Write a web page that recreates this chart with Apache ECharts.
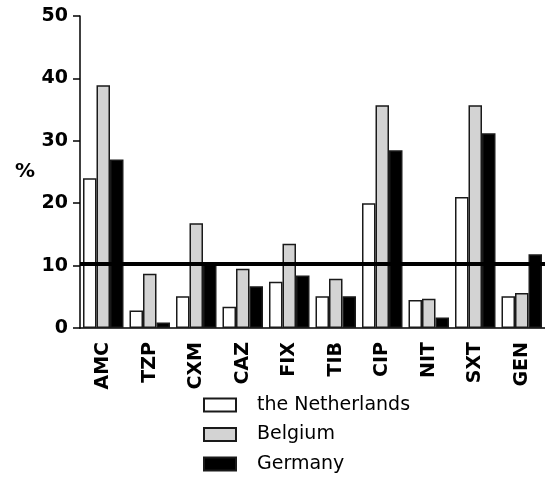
<!DOCTYPE html>
<html>
<head>
<meta charset="utf-8">
<script src="https://cdn.jsdelivr.net/npm/echarts@6/dist/echarts.min.js"></script>
<style>
html,body{margin:0;padding:0;background:#fff;}
#chart{width:545px;height:478px;}
</style>
</head>
<body>
<div id="chart"></div>
<script>
const categories = ['AMC','TZP','CXM','CAZ','FIX','TIB','CIP','NIT','SXT','GEN'];
const netherlands = [24.0, 2.8, 5.1, 3.4, 7.4, 5.1, 20.0, 4.5, 21.0, 5.1];
const belgium     = [38.9, 8.7, 16.8, 9.5, 13.5, 7.9, 35.7, 4.7, 35.7, 5.6];
const germany     = [27.0, 0.9, 10.4, 6.7, 8.4, 5.1, 28.5, 1.7, 31.2, 11.8];
const seriesNames = ['the Netherlands','Belgium','Germany'];
const referenceLevel = 10.3;
const yTicks = {min: 0, max: 50, interval: 10};

const chart = echarts.init(document.getElementById('chart'), null, {renderer:'canvas'});
const boldFont = 'DejaVu Sans';
const barStyle = (fill) => ({color: fill, borderColor: '#1a1a1a', borderWidth: 1.5});

chart.setOption({
  animation: false,
  backgroundColor: '#fff',
  grid: {left: 80, top: 16, right: -2, bottom: 150, containLabel: false},
  legend: {
    orient: 'vertical',
    left: 203,
    top: 395,
    height: 90,
    padding: 0,
    itemWidth: 32,
    itemHeight: 13,
    itemGap: 9.5,
    selectedMode: false,
    textStyle: {fontFamily: 'DejaVu Sans', fontSize: 19, color: '#000', lineHeight: 20, padding: [0,0,0,16]},
    data: seriesNames.map(n => ({name: n, icon: 'rect'}))
  },
  xAxis: {
    type: 'category',
    data: categories,
    axisLine: {lineStyle: {color: '#000', width: 1.5}},
    axisTick: {alignWithLabel: true, length: 7, lineStyle: {color: '#000', width: 1.5}},
    axisLabel: {rotate: 90, margin: 14, fontFamily: boldFont, fontWeight: 'bold', fontSize: 19, color: '#000'}
  },
  yAxis: {
    type: 'value',
    min: yTicks.min, max: yTicks.max, interval: yTicks.interval,
    name: '%',
    nameLocation: 'middle',
    nameRotate: 0,
    nameGap: 45,
    nameTextStyle: {fontFamily: boldFont, fontWeight: 'bold', fontSize: 20, color: '#000'},
    axisLine: {show: true, lineStyle: {color: '#000', width: 1.5}},
    axisTick: {show: true, length: 7, lineStyle: {color: '#000', width: 1.5}},
    axisLabel: {margin: 12, fontFamily: boldFont, fontWeight: 'bold', fontSize: 19, color: '#000'},
    splitLine: {show: false}
  },
  series: [
    {name: seriesNames[0], type: 'bar', data: netherlands, barWidth: 13.5, barGap: '0%', itemStyle: barStyle('#ffffff'), z: 2},
    {name: seriesNames[1], type: 'bar', data: belgium, barWidth: 13.5, barGap: '0%', itemStyle: barStyle('#d3d3d3'), z: 2},
    {name: seriesNames[2], type: 'bar', data: germany, barWidth: 13.5, barGap: '0%', itemStyle: barStyle('#000000'), z: 2,
      markLine: {
        silent: true, symbol: ['none','none'], label: {show: false},
        lineStyle: {color: '#000', width: 4, type: 'solid'},
        data: [{yAxis: referenceLevel}]
      }
    }
  ]
});
</script>
</body>
</html>
